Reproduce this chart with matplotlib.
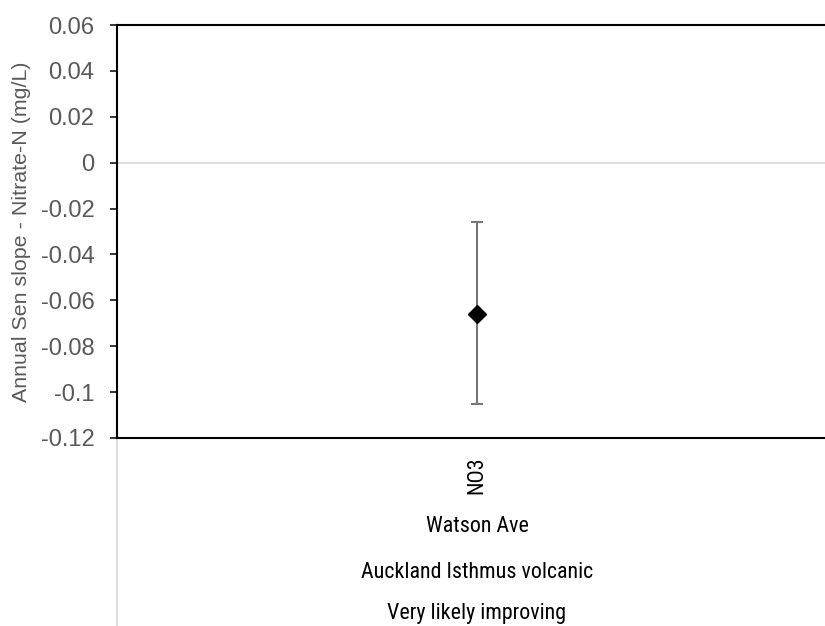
import matplotlib
matplotlib.use("Agg")
import matplotlib.pyplot as plt
from matplotlib import font_manager

categories = ["NO3"]
sites = ["Watson Ave"]
aquifers = ["Auckland Isthmus volcanic"]
trends = ["Very likely improving"]
slope = [-0.066]
lower = [-0.105]
upper = [-0.026]
yticks = [0.06, 0.04, 0.02, 0, -0.02, -0.04, -0.06, -0.08, -0.1, -0.12]
ytick_labels = ["0.06", "0.04", "0.02", "0", "-0.02", "-0.04", "-0.06", "-0.08", "-0.1", "-0.12"]
ylabel = "Annual Sen slope - Nitrate-N (mg/L)"

names = {f.name for f in font_manager.fontManager.ttflist}
narrow = "Liberation Sans"
for cand in ["Liberation Sans Narrow", "Arial Narrow", "Roboto Condensed", "Archivo Narrow",
             "Open Sans Condensed", "Barlow Semi Condensed"]:
    if cand in names:
        narrow = cand
        break
plt.rcParams['font.family'] = ['Liberation Sans', 'DejaVu Sans']

W, H = 825, 626
fig = plt.figure(figsize=(W/100, H/100), dpi=100)
renderer = fig.canvas.get_renderer()

def fit_size(text, family, target_px, base=12.0):
    t = fig.text(0, 0, text, fontsize=base, family=family)
    w = t.get_window_extent(renderer).width
    t.remove()
    return base * target_px / w

tick_fs = fit_size("0.06", ['Liberation Sans', 'DejaVu Sans'], 46)
ylab_fs = fit_size(ylabel, ['Liberation Sans', 'DejaVu Sans'], 340)
cat_fs = fit_size("Auckland Isthmus volcanic", [narrow, 'DejaVu Sans'], 232)

left, right, top, bottom = 117, 825, 25, 438
ax = fig.add_axes([left/W, 1-bottom/H, (right-left)/W, (bottom-top)/H])

x = list(range(len(categories)))
yerr_lo = [s - l for s, l in zip(slope, lower)]
yerr_hi = [u - s for s, u in zip(slope, upper)]
ax.errorbar(x, slope, yerr=[yerr_lo, yerr_hi], fmt='none', ecolor='#767676',
            elinewidth=1.5, capsize=4.5, capthick=1.5, zorder=3)
ax.plot(x, slope, linestyle='none', marker='D', color='black', markersize=9, zorder=4)

ax.axhline(0, color='#d9d9d9', linewidth=1.2, zorder=1)
ax.set_ylim(-0.12, 0.06)
ax.set_xlim(-0.5, 0.5*348/360)
ax.set_yticks(yticks)
ax.set_yticklabels(ytick_labels, color='#595959', fontsize=tick_fs)
ax.tick_params(axis='y', direction='out', length=5.4, width=1.1, color='black', pad=10.8)
ax.set_xticks([])
for s in ['left', 'top', 'bottom']:
    ax.spines[s].set_color('black')
    ax.spines[s].set_linewidth(1.5)
ax.spines['right'].set_visible(False)
ax.set_ylabel(ylabel, color='#595959', fontsize=ylab_fs)
ax.yaxis.set_label_coords((22 - left)/(right - left), 0.5)
ax.yaxis.label.set_verticalalignment('center')

# category axis separator
ax.plot([-0.5, -0.5], [0, -188/(bottom-top)], transform=ax.get_xaxis_transform(),
        color='#d9d9d9', linewidth=1.2, clip_on=False)

tr = ax.get_xaxis_transform()
def yfrac(py):
    return (bottom - py)/(bottom - top)
for i, (c, s, a, t) in enumerate(zip(categories, sites, aquifers, trends)):
    ax.text(i, yfrac(456), c, rotation=90, ha='center', va='top', transform=tr,
            fontsize=cat_fs, family=[narrow, 'DejaVu Sans'])
    ax.text(i, yfrac(527), s, ha='center', va='center', transform=tr,
            fontsize=cat_fs, family=[narrow, 'DejaVu Sans'])
    ax.text(i, yfrac(572), a, ha='center', va='center', transform=tr,
            fontsize=cat_fs, family=[narrow, 'DejaVu Sans'])
    ax.text(i, yfrac(613), t, ha='center', va='center', transform=tr,
            fontsize=cat_fs, family=[narrow, 'DejaVu Sans'])

fig.savefig("out.png", dpi=100)
